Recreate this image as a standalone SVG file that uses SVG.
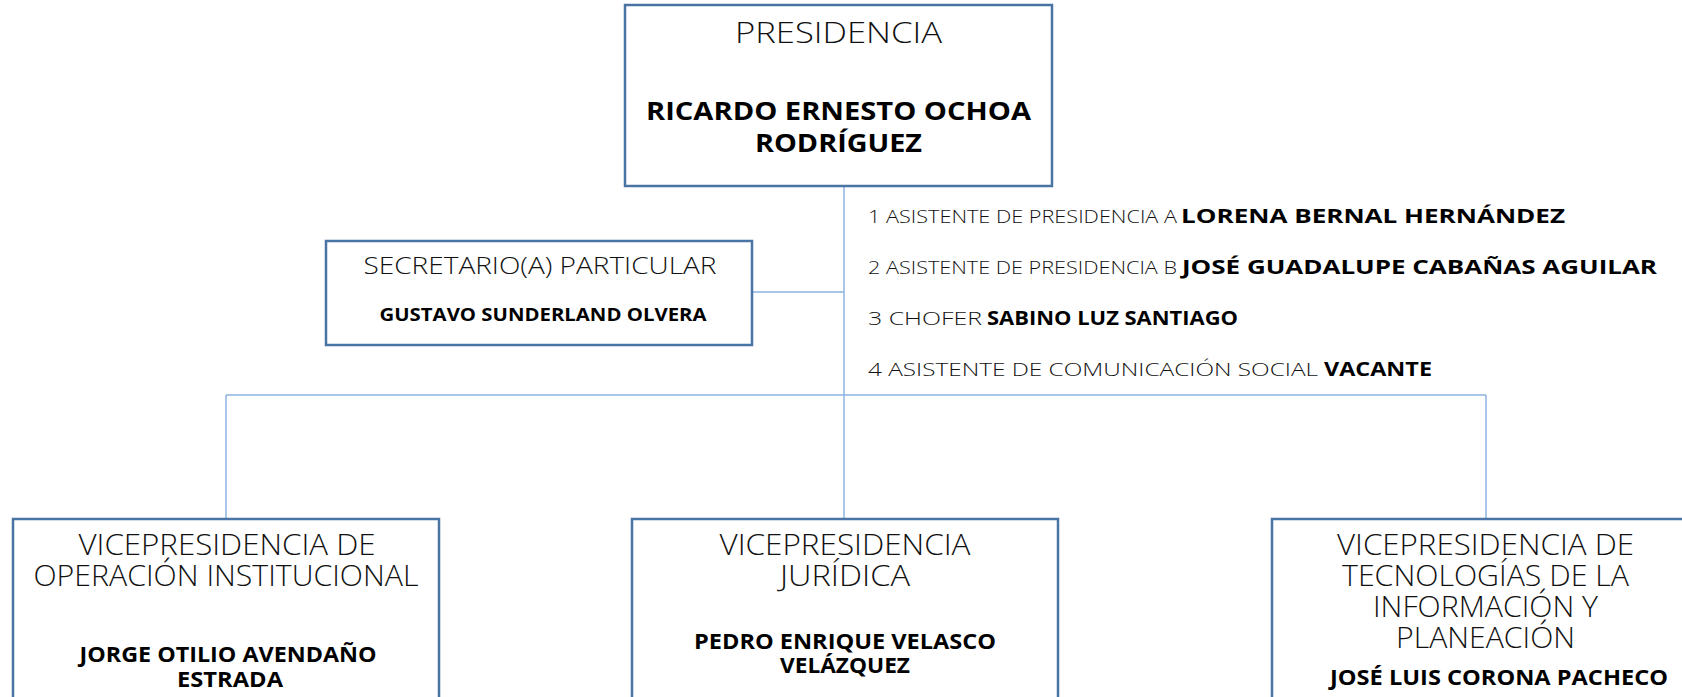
<svg xmlns="http://www.w3.org/2000/svg" width="1682" height="697" viewBox="0 0 1682 697">
<style>
.box{fill:#ffffff;stroke:#4a74a3;stroke-width:2.5}
.con{fill:none;stroke:#8db3e2;stroke-width:1.5}
text{font-family:"Open Sans","Noto Sans","Liberation Sans",sans-serif;fill:#111111}
.t{font-weight:300;text-anchor:middle}
.b{font-weight:700;text-anchor:middle;fill:#000000}
.lr{font-weight:300;font-size:19px}
.lb{font-weight:700;font-size:19px;fill:#000000}
</style>
<rect width="1682" height="697" fill="#ffffff"/>
<g id="connectors">
<path class="con" d="M844 186V395"/>
<path class="con" d="M752 292H844"/>
<path class="con" d="M226 395H1486"/>
<path class="con" d="M226 395V519"/>
<path class="con" d="M844 395V519"/>
<path class="con" d="M1486 395V519"/>
</g>
<g id="presidencia">
<rect class="box" x="625" y="5" width="427" height="181"/>
<text class="t" x="838.5" y="43" font-size="30" textLength="207" lengthAdjust="spacingAndGlyphs">PRESIDENCIA</text>
<text class="b" x="838.5" y="120" font-size="25" textLength="385" lengthAdjust="spacingAndGlyphs">RICARDO ERNESTO OCHOA</text>
<text class="b" x="838.5" y="152" font-size="25" textLength="167" lengthAdjust="spacingAndGlyphs">RODRÍGUEZ</text>
</g>
<g id="secretario">
<rect class="box" x="326" y="241" width="426" height="104"/>
<text class="t" x="540" y="274" font-size="24" textLength="353" lengthAdjust="spacingAndGlyphs">SECRETARIO(A) PARTICULAR</text>
<text class="b" x="543" y="321" font-size="18" textLength="327" lengthAdjust="spacingAndGlyphs">GUSTAVO SUNDERLAND OLVERA</text>
</g>
<g id="asistentes">
<text class="lr" x="868" y="223" textLength="309" lengthAdjust="spacingAndGlyphs">1 ASISTENTE DE PRESIDENCIA A</text>
<text class="lb" x="1181" y="223" textLength="384" lengthAdjust="spacingAndGlyphs">LORENA BERNAL HERNÁNDEZ</text>
<text class="lr" x="868" y="274" textLength="309" lengthAdjust="spacingAndGlyphs">2 ASISTENTE DE PRESIDENCIA B</text>
<text class="lb" x="1182" y="274" textLength="475" lengthAdjust="spacingAndGlyphs">JOSÉ GUADALUPE CABAÑAS AGUILAR</text>
<text class="lr" x="868" y="325" textLength="114" lengthAdjust="spacingAndGlyphs">3 CHOFER</text>
<text class="lb" x="987" y="325" textLength="251" lengthAdjust="spacingAndGlyphs">SABINO LUZ SANTIAGO</text>
<text class="lr" x="868" y="376" textLength="450" lengthAdjust="spacingAndGlyphs">4 ASISTENTE DE COMUNICACIÓN SOCIAL</text>
<text class="lb" x="1324" y="376" textLength="108" lengthAdjust="spacingAndGlyphs">VACANTE</text>
</g>
<g id="vp-operacion">
<rect class="box" x="13" y="519" width="426" height="200"/>
<text class="t" x="227" y="555" font-size="28.5" textLength="297" lengthAdjust="spacingAndGlyphs">VICEPRESIDENCIA DE</text>
<text class="t" x="226" y="586" font-size="28.5" textLength="385" lengthAdjust="spacingAndGlyphs">OPERACIÓN INSTITUCIONAL</text>
<text class="b" x="228" y="662" font-size="22" textLength="297" lengthAdjust="spacingAndGlyphs">JORGE OTILIO AVENDAÑO</text>
<text class="b" x="230" y="687" font-size="22" textLength="106" lengthAdjust="spacingAndGlyphs">ESTRADA</text>
</g>
<g id="vp-juridica">
<rect class="box" x="632" y="519" width="426" height="200"/>
<text class="t" x="845" y="555" font-size="28.5" textLength="251" lengthAdjust="spacingAndGlyphs">VICEPRESIDENCIA</text>
<text class="t" x="845" y="586" font-size="28.5" textLength="130" lengthAdjust="spacingAndGlyphs">JURÍDICA</text>
<text class="b" x="845" y="649" font-size="22" textLength="302" lengthAdjust="spacingAndGlyphs">PEDRO ENRIQUE VELASCO</text>
<text class="b" x="845" y="673" font-size="22" textLength="130" lengthAdjust="spacingAndGlyphs">VELÁZQUEZ</text>
</g>
<g id="vp-tecnologias">
<rect class="box" x="1272" y="519" width="427" height="200"/>
<text class="t" x="1485.5" y="555" font-size="28.5" textLength="297" lengthAdjust="spacingAndGlyphs">VICEPRESIDENCIA DE</text>
<text class="t" x="1485.5" y="586" font-size="28.5" textLength="287" lengthAdjust="spacingAndGlyphs">TECNOLOGÍAS DE LA</text>
<text class="t" x="1485.5" y="617" font-size="28.5" textLength="225" lengthAdjust="spacingAndGlyphs">INFORMACIÓN Y</text>
<text class="t" x="1485.5" y="648" font-size="28.5" textLength="179" lengthAdjust="spacingAndGlyphs">PLANEACIÓN</text>
<text class="b" x="1499" y="685" font-size="21" textLength="338" lengthAdjust="spacingAndGlyphs">JOSÉ LUIS CORONA PACHECO</text>
</g>
</svg>
